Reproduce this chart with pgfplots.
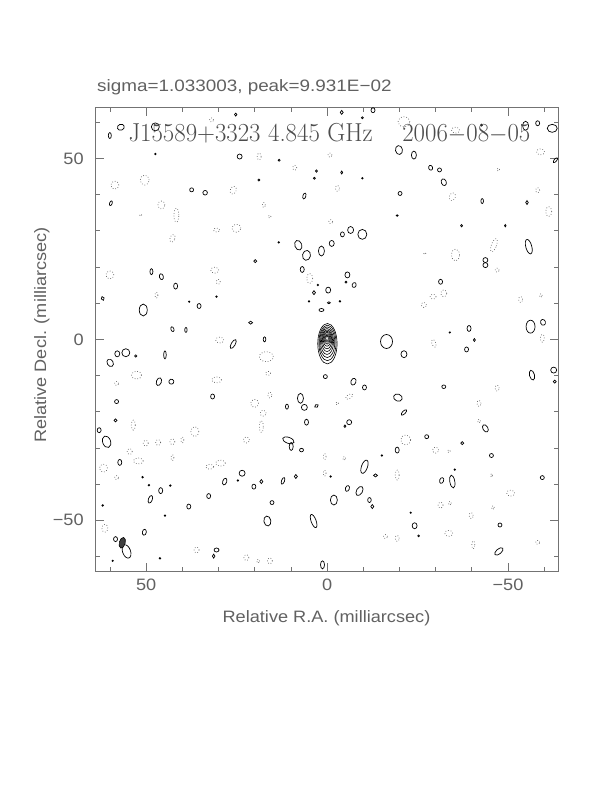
\documentclass[border=0pt]{standalone}
\usepackage{fontspec}
\setsansfont{Liberation Sans}[FakeStretch=1.1]
\usepackage{graphicx}
\usepackage{pgfplots}
\usepackage{pgfplotstable}
\pgfplotsset{compat=1.18}
\definecolor{txt}{gray}{0.38}
\definecolor{frm}{gray}{0.45}
\definecolor{neg}{gray}{0.38}
\newcommand\lab{\sffamily\fontsize{16.5bp}{19bp}\selectfont}
\pgfdeclareplotmark{ell}{\pgfscope\pgftransformrotate{\cT}\pgfpathellipse{\pgfpointorigin}{\pgfpoint{\cA pt}{0pt}}{\pgfpoint{0pt}{\cB pt}}\pgfusepathqstroke\endpgfscope}
\pgfdeclareplotmark{ellf}{\pgfscope\pgftransformrotate{\cT}\pgfpathellipse{\pgfpointorigin}{\pgfpoint{\cA pt}{0pt}}{\pgfpoint{0pt}{\cB pt}}\pgfusepathqfillstroke\endpgfscope}

% central source (true coordinates, mas); a,b semi-axes in pt; t rotation
\pgfplotstableread{
x y a b t
-0.10 -1.20 9.7 20.3 0
-0.10 -1.00 8.6 17.8 0
-0.05 -0.80 7.6 15.4 0
0 -0.60 6.6 13.0 0
0 -0.40 5.6 10.8 0
0 -0.20 4.7 8.8 0
0 0.00 3.8 6.9 0
0 0.10 3.0 5.2 0
0 0.20 2.2 3.6 0
0 0.25 1.3 2.1 0
}\core

% positive contours
\pgfplotstableread{
x y a b t
60.6 56.3 1.5 3 0
57.5 58.6 3.5 3 20
47.8 58.7 4 4 0
24.1 50.5 2.5 2.5 0
13.0 49.5 1 1 0
2.5 46.5 1 1.2 0
3.1 44.5 1 1 0
18.7 44.0 1 1 0
37.6 41.3 2 2 0
33.8 40.5 2.3 2.3 0
60.3 37.6 1.3 2.5 -20
5.9 39.6 1.5 3 -15
25.2 62.1 1.2 1.5 0
47.8 51.2 0.8 0.8 0
13.1 26.8 0.8 0.8 0
7.6 26.0 3.5 5 20
5.3 23.2 4 5 -10
1.1 24.4 3 5 0
19.7 21.6 1.5 1.5 0
-4.6 62.7 1.5 2 0
-13.4 63.3 2 2.5 0
-10.4 61.2 1 1 0
-20.7 52.3 3.5 4.5 10
-24.9 50.9 2.5 4 0
-43.9 59.2 1 1 0
-56.3 59.0 3 4.5 0
-59.7 59.7 2 2.5 0
-63.8 58.3 5 4 0
-64.7 49.5 1.3 3 -40
-4.6 46.1 1 1.5 0
-10.4 44.5 0.8 0.8 0
-29.6 47.4 2 2.5 20
-32.1 46.8 2 2 0
-33.3 43.4 2.5 3.5 20
-21.0 40.3 2 2 0
-44.1 38.2 1.3 2.5 0
-56.7 37.8 1.3 2 0
-20.2 34.2 1 0.8 0
-38.3 31.4 1 1.2 0
-50.6 31.4 0.8 1.2 0
-1.8 26.5 2.5 3 0
-4.8 29.0 2 2.5 0
-7.1 30.2 3 3.5 0
-10.4 29.0 4.5 5 0
-57.2 25.6 3 7.5 15
-45.0 21.9 2.5 2.5 0
48.9 18.7 1.5 3 0
46.1 17.3 2 3 15
42.1 14.7 2 3 0
62.6 11.3 1.5 2 20
51.2 8.1 4 6 0
38.3 10.4 0.7 0.7 0
35.5 9.2 2 2.5 0
30.6 11.8 0.8 0.8 0
43.0 2.8 1.5 2.5 20
39.2 2.6 1.2 2.5 0
60.5 -6.5 3 4 30
58.5 -4.0 2.5 3 0
56.1 -3.7 4 4 0
53.3 -4.6 1.2 1.2 0
45.1 -4.3 1.3 4 0
25.9 -1.3 2 5 -30
21.0 4.6 2 1.5 0
17.1 0.0 1.3 2.5 0
6.5 19.3 2 3 0
2.1 15.0 0.8 0.8 0
3.2 12.9 1.5 2 0
1.1 8.1 2.5 1.5 0
46.8 -11.7 2.5 4 -20
43.3 -11.7 2.5 2.5 -30
31.7 -15.8 2 2.5 0
58.7 -17.2 2 2 0
7.0 -16.3 3 5 0
5.9 -18.8 3 3 0
10.8 -18.6 1.5 2.5 0
2.5 -18.4 2 1.5 30
0.0 -10.3 2 2 0
-0.8 13.6 2.5 3 0
-1.0 10.1 1.5 1 0
4.6 10.5 0.7 0.7 0
-6.2 17.8 2.5 3 0
-5.8 15.8 1 1 0
-8.1 15.0 2 2.5 -20
-4.1 10.5 0.8 0.8 0
-32.4 15.9 2 2.5 0
-45.0 20.5 2.5 2.5 0
-17.2 -0.6 6 7 0
-22.1 -4.1 3 3.5 0
-40.4 3.0 2 3 0
-41.9 -0.2 1 1.5 0
-39.7 -2.8 2 2.5 0
-35.0 1.9 0.7 0.7 0
-57.7 3.5 4.5 6.5 0
-61.2 4.7 2.5 3 20
-58.1 -9.9 2.5 5 15
-64.2 -8.5 3 3 0
-64.5 -11.7 1.5 1.5 0
-7.9 -11.7 2.5 3.5 -20
-11.0 -13.3 2 2.5 0
-33.3 -13.1 2 1.8 0
-20.4 -16.1 4.5 3.5 -20
-22.1 -20.2 1.5 3.5 -45
63.6 -25.1 2 2.5 0
61.5 -28.3 4 6 20
57.8 -34.0 2 3 0
51.4 -38.1 0.8 0.8 0
59.0 -22.4 1.5 1.5 0
5.3 -22.9 2 3 0
10.4 -27.9 6 3 -20
9.6 -29.6 2 4 0
6.7 -30.6 2 1.8 0
23.4 -37.0 3 3 0
28.3 -39.3 2 3.5 -20
24.6 -39.0 0.8 0.8 0
18.0 -39.3 1.5 2 0
20.1 -40.7 2 2.5 0
11.9 -39.1 1.5 3.5 -20
8.3 -37.9 1.5 2 0
46.3 -41.8 2 3 0
49.6 -40.3 0.8 0.8 0
43.6 -40.4 0.8 0.8 0
49.2 -44.2 2 4 -20
32.8 -43.3 2 2.5 0
38.4 -46.2 2 2.5 0
15.0 -45.1 2 2 0
62.6 -45.9 0.8 0.8 0
45.1 -48.7 0.8 0.8 0
16.3 -50.2 3.5 5 10
3.3 -50.2 2.5 7 20
50.9 -53.3 2 3 -10
59.0 -55.2 2 2.5 0
55.9 -58.6 4 7 20
30.6 -58.2 2.5 2 0
31.4 -59.9 1.3 2 0
46.5 -60.5 0.8 0.8 0
0.8 -62.3 2 4 0
59.8 -61.2 0.7 0.7 0
-6.7 -22.9 2.5 2.5 0
-5.5 -24.0 1 1.3 0
-45.0 -24.6 2.5 4 30
-28.5 -26.9 2 2 0
-38.5 -28.7 1.5 1.5 0
-20.2 -30.6 2 3 0
-15.9 -32.1 0.8 0.8 0
-46.7 -32.1 2 2 0
-11.0 -35.2 3 7 -20
-14.1 -37.6 2 1.5 0
-1.5 -37.9 0.8 0.8 0
-36.4 -36.0 0.8 0.8 0
-32.7 -39.0 2 3 -20
-35.7 -39.3 2.5 6.5 10
-61.0 -38.2 2 2 0
-6.2 -41.2 2 3 -20
-9.6 -41.9 3 5 -30
-2.4 -44.4 3.5 5 0
-12.4 -44.4 1.8 2.5 0
-13.2 -46.2 1.5 2 0
-25.1 -51.5 2.5 3 0
-26.2 -54.3 0.9 0.9 0
-49.1 -51.3 2 2 0
-48.8 -58.6 2.5 5 -50
-24.0 -47.9 0.7 0.7 0
}\pos

% negative contours
\pgfplotstableread{
x y a b t
59.2 42.6 4 4 0
50.8 44.0 4.5 5 0
46.1 37.1 3.5 4 0
41.9 34.3 2.5 7 0
43.0 27.9 2.5 4 -20
32.0 60.6 2 2 0
18.6 50.5 2 3.5 0
8.6 47.4 2 2.5 0
25.9 41.2 3 4 -20
17.3 37.1 1.5 2.5 0
15.7 33.9 1.5 1.5 0
30.6 30.2 3 2 0
25.0 30.7 4.5 4 0
51.9 34.3 1 1 0
-22.1 60.1 6 5 0
-36.6 57.8 4 3 0
-60.5 51.8 4 3 0
-48.6 46.9 1.5 1.5 0
-3.4 41.7 2 3 0
-35.7 39.4 3 4 -20
-59.7 41.2 2 2.5 0
-62.8 35.3 3 5 0
-47.4 26.0 2.5 7 -20
-36.6 23.3 4 6 0
-28.0 23.7 1 1 0
-1.3 50.9 2 2 0
-1.5 32.5 2 2 0
60.6 17.8 4 4 0
31.1 19.1 4 3 0
30.1 15.9 2 2.5 0
47.5 12.2 1.5 3 0
4.4 16.8 3 5 0
29.7 -0.2 4 3 0
16.6 -4.8 7 5 0
16.1 -9.4 2.5 2 0
53.1 -9.9 5 4 0
58.7 -12.2 2 2 0
30.6 -11.2 5 3 0
19.9 -17.7 4 4 0
15.6 -15.4 2 3 0
17.5 -20.4 3 3 0
-30.3 11.8 3 2.5 0
-33.3 12.7 3 3.5 0
-27.7 9.5 2.5 2.5 0
-54.9 11.0 2 3 0
-60.6 12.1 1.5 2 0
-61.0 0.3 2 4 0
-30.5 -1.1 2 4 20
-48.3 -13.5 2 3 0
-43.2 -17.7 2 3 0
-6.7 -15.8 4 2 30
-3.3 -17.7 1.5 1.5 0
-48.3 19.1 2 2 0
54.0 -23.7 2 5 0
36.7 -25.5 4 5 0
18.0 -24.1 2 6 0
50.5 -28.7 2.5 3 0
47.0 -28.5 2.5 3 0
43.0 -28.3 2.5 3 0
40.2 -27.8 1.5 3 0
22.2 -27.8 3 3 0
55.0 -31.0 2.5 3 0
52.6 -33.6 5 3 0
62.4 -35.6 4 4 0
58.7 -38.2 2 2 0
43.0 -32.7 1.5 3 0
32.5 -35.2 4 2.5 0
29.5 -34.2 5 3 0
0.2 -32.4 1.5 3 0
0.2 -37.0 1.5 3 0
62.0 -52.2 3 4 0
36.2 -58.2 2.5 3 0
22.2 -60.3 2.5 3 0
18.9 -61.3 1.5 2 0
15.6 -61.2 2.5 3 0
-22.6 -27.8 5 5 0
-43.2 -22.6 1.5 2 0
-31.0 -30.6 3 3 0
-34.7 -30.9 1.5 1.5 0
-5.3 -32.9 1.5 2 0
-20.2 -37.5 2 5 0
-46.7 -37.6 1 2 0
-52.1 -42.5 4 3 0
-32.4 -45.8 2.5 3 0
-35.0 -45.3 1.5 2 0
-41.0 -48.7 2 3 0
-47.1 -46.5 1.5 2 0
-34.7 -53.6 4 3 0
-20.2 -55.0 2 3 0
-16.9 -54.5 2 2 0
-41.6 -56.8 1.5 4 0
-59.7 -56.1 2 2 0
}\negc

\pgfplotstableread{
x y a b t
57.1 -56.2 3 5.5 -15
}\beam

\begin{document}
\begin{tikzpicture}
\useasboundingbox (0,0) rectangle (612bp,792bp);
\begin{axis}[
  at={(95.5bp,220.3bp)}, anchor=south west,
  scale only axis, width=463.1bp, height=464bp,
  xmin=-64, xmax=64, ymin=-64.2, ymax=64,
  x dir=reverse,
  xtick={-50,0,50}, xticklabels={−50,0,50},
  ytick={-50,0,50}, yticklabels={−50,0,50},
  minor xtick={-60,-40,-30,-20,-10,10,20,30,40,60},
  minor ytick={-60,-40,-30,-20,-10,10,20,30,40,60},
  tick align=inside, xtick pos=both, ytick pos=both,
  major tick length=8.5bp, minor tick length=4.3bp,
  axis line style={frm, line width=0.6bp},
  every tick/.style={frm, line width=0.6bp},
  ticklabel style={font=\lab, text=txt},
  xticklabel style={yshift=-3.5bp},
  yticklabel style={xshift=-8.3bp},
  clip marker paths=true,
  blobs/.style={scatter, only marks,
    scatter/@pre marker code/.code={}, scatter/@post marker code/.code={},
    visualization depends on={\thisrow{a}\as\cA},
    visualization depends on={\thisrow{b}\as\cB},
    visualization depends on={\thisrow{t}\as\cT}},
]
\addplot[blobs, mark=ell, x filter/.expression={0.47+0.983*x},
  mark options={draw=neg, line width=0.7bp, dotted}] table[x=x,y=y] {\negc};
\addplot[blobs, mark=ell, x filter/.expression={0.47+0.983*x},
  mark options={draw=black, line width=0.7bp, solid}] table[x=x,y=y] {\pos};
\addplot[blobs, mark=ell,
  mark options={draw=black, line width=0.6bp, solid}] table[x=x,y=y] {\core};
\addplot[blobs, mark=ellf, x filter/.expression={0.47+0.983*x},
  mark options={draw=black, fill=black!75, line width=0.6bp, solid}] table[x=x,y=y] {\beam};
\end{axis}
\node[anchor=base west, inner sep=0, text=txt, font=\lab] at (97bp,700.3bp) {\scalebox{1.04}[1]{sigma=1.033003, peak=9.931E−02}};
\node[anchor=base west, inner sep=0, text=black!70] at (128.3bp,650.3bp)
  {\rmfamily\fontsize{26bp}{30bp}\selectfont\scalebox{0.955}[1]{J15589+3323 4.845 GHz\hspace{31bp}2006$-$08$-$05}};
\node[anchor=base, inner sep=0, text=txt, font=\lab] at (326.5bp,169.3bp) {Relative R.A. (milliarcsec)};
\node[anchor=base, rotate=90, inner sep=0, text=txt, font=\lab] at (46bp,457bp) {Relative Decl. (milliarcsec)};
\end{tikzpicture}
\end{document}
